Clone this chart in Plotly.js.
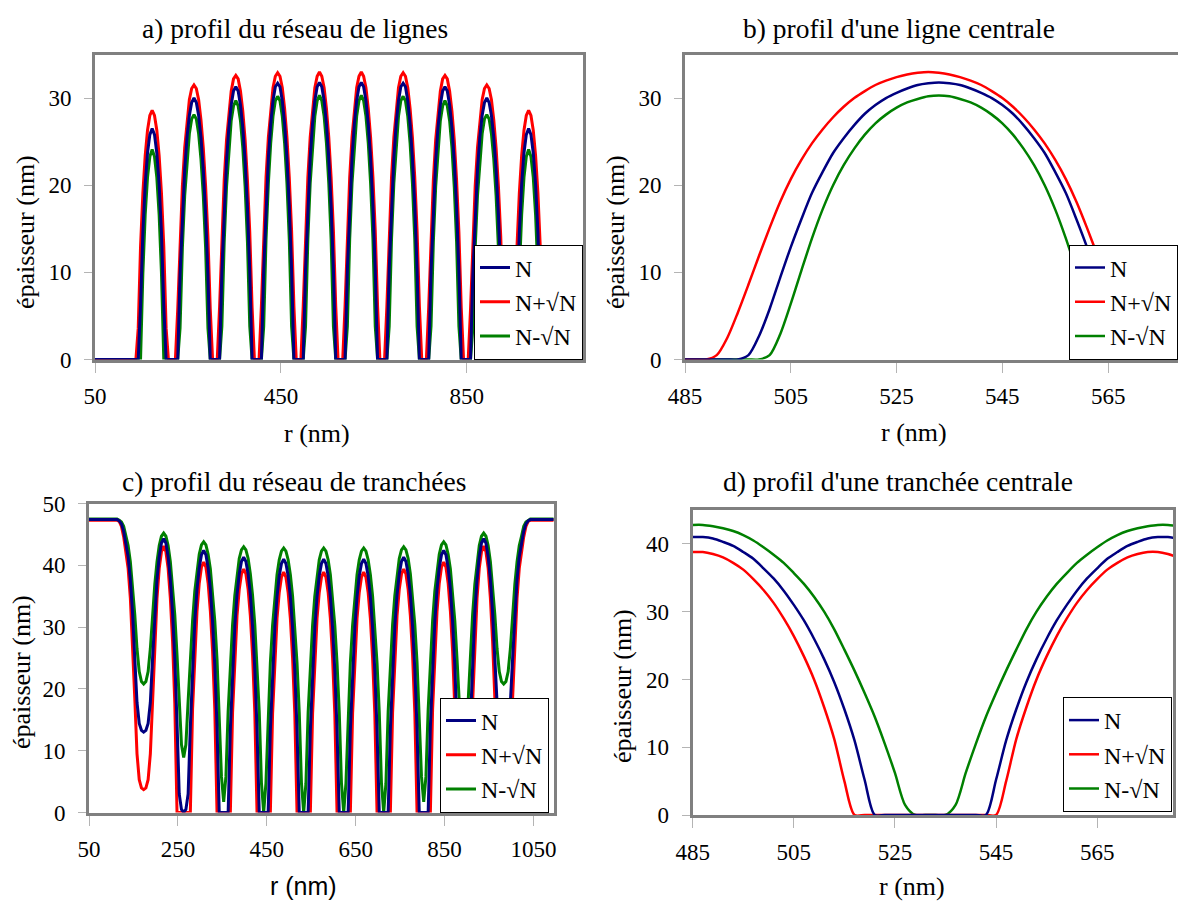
<!DOCTYPE html>
<html><head><meta charset="utf-8">
<script src="https://cdn.plot.ly/plotly-3.0.1.min.js"></script>
<style>html,body{margin:0;padding:0;overflow:hidden;background:#fff;}#chart{width:1190px;height:903px;}</style>
</head><body><div id="chart"></div>
<script>
// ---------- data ----------
const seriesNames = ['N', 'N+\u221AN', 'N-\u221AN'];
// panels a & c sampled from r = 48 nm every 5 nm ; panels b & d from r = 485 nm every 2 nm
const rStartArray = 48, rStepArray = 5;
const rStartZoom = 485, rStepZoom = 2;

// a) profil du réseau de lignes
const lignes_N = [
0,0,0,0,0,0,0,0,0,0,0,0,0,0,0,0,
0,0,0,0,6.2,14.6,20.1,23.7,25.8,26.5,25.8,23.7,20.1,14.6,6.2,0,0,0,
0,0,0,9.7,16.7,21.8,25.5,28.0,29.5,30.0,29.5,28.0,25.5,21.8,16.7,9.7,0,0,
0,0,0,10.1,17.5,22.8,26.6,29.2,30.8,31.3,30.8,29.2,26.6,22.8,17.5,10.1,0,0,
0,0,0,10.3,17.7,23.1,27.0,29.7,31.3,31.7,31.3,29.7,27.0,23.1,17.7,10.3,0,0,
0,0,0,10.3,17.7,23.1,27.0,29.7,31.3,31.8,31.3,29.7,27.0,23.1,17.7,10.3,0,0,
0,0,0,10.3,17.7,23.1,27.0,29.7,31.3,31.8,31.3,29.7,27.0,23.1,17.7,10.3,0,0,
0,0,0,10.3,17.7,23.1,27.0,29.7,31.3,31.7,31.3,29.7,27.0,23.1,17.7,10.3,0,0,
0,0,0,10.1,17.5,22.8,26.6,29.2,30.8,31.3,30.8,29.2,26.6,22.8,17.5,10.1,0,0,
0,0,0,9.7,16.7,21.8,25.5,28.0,29.5,30.0,29.5,28.0,25.5,21.8,16.7,9.7,0,0,
0,0,0,0,6.2,14.6,20.1,23.7,25.8,26.5,25.8,23.7,20.1,14.6,6.2,0,0,0,
0,0,0,0,0,0,0,0,0,0,0,0,0,0,0,0];
const lignes_Nplus = [
0,0,0,0,0,0,0,0,0,0,0,0,0,0,0,0,
0,0,0,3.6,13.0,19.1,23.4,26.3,28.0,28.6,28.0,26.3,23.4,19.1,13.0,3.6,0,0,
0,0,5.8,14.1,19.9,24.3,27.5,29.8,31.1,31.5,31.1,29.8,27.5,24.3,19.9,14.1,5.8,0,
0,0,6.0,14.6,20.6,25.2,28.5,30.8,32.2,32.6,32.2,30.8,28.5,25.2,20.6,14.6,6.0,0,
0,0,6.1,14.8,20.9,25.5,28.8,31.2,32.5,32.9,32.5,31.2,28.8,25.5,20.9,14.8,6.1,0,
0,0,6.1,14.8,20.9,25.5,28.8,31.2,32.5,33.0,32.5,31.2,28.8,25.5,20.9,14.8,6.1,0,
0,0,6.1,14.8,20.9,25.5,28.8,31.2,32.5,33.0,32.5,31.2,28.8,25.5,20.9,14.8,6.1,0,
0,0,6.1,14.8,20.9,25.5,28.8,31.2,32.5,32.9,32.5,31.2,28.8,25.5,20.9,14.8,6.1,0,
0,0,6.0,14.6,20.6,25.2,28.5,30.8,32.2,32.6,32.2,30.8,28.5,25.2,20.6,14.6,6.0,0,
0,0,5.8,14.1,19.9,24.3,27.5,29.8,31.1,31.5,31.1,29.8,27.5,24.3,19.9,14.1,5.8,0,
0,0,0,3.6,13.0,19.1,23.4,26.3,28.0,28.6,28.0,26.3,23.4,19.1,13.0,3.6,0,0,
0,0,0,0,0,0,0,0,0,0,0,0,0,0,0,0];
const lignes_Nmoins = [
0,0,0,0,0,0,0,0,0,0,0,0,0,0,0,0,
0,0,0,0,0,9.9,16.6,20.9,23.3,24.1,23.3,20.9,16.6,9.9,0,0,0,0,
0,0,0,3.6,12.8,18.8,23.0,25.9,27.6,28.1,27.6,25.9,23.0,18.8,12.8,3.6,0,0,
0,0,0,3.8,13.5,19.8,24.3,27.4,29.1,29.7,29.1,27.4,24.3,19.8,13.5,3.8,0,0,
0,0,0,3.8,13.8,20.2,24.8,27.9,29.7,30.2,29.7,27.9,24.8,20.2,13.8,3.8,0,0,
0,0,0,3.8,13.8,20.2,24.8,27.9,29.7,30.3,29.7,27.9,24.8,20.2,13.8,3.8,0,0,
0,0,0,3.8,13.8,20.2,24.8,27.9,29.7,30.3,29.7,27.9,24.8,20.2,13.8,3.8,0,0,
0,0,0,3.8,13.8,20.2,24.8,27.9,29.7,30.2,29.7,27.9,24.8,20.2,13.8,3.8,0,0,
0,0,0,3.8,13.5,19.8,24.3,27.4,29.1,29.7,29.1,27.4,24.3,19.8,13.5,3.8,0,0,
0,0,0,3.6,12.8,18.8,23.0,25.9,27.6,28.1,27.6,25.9,23.0,18.8,12.8,3.6,0,0,
0,0,0,0,0,9.9,16.6,20.9,23.3,24.1,23.3,20.9,16.6,9.9,0,0,0,0,
0,0,0,0,0,0,0,0,0,0,0,0,0,0,0,0];

// b) profil d'une ligne centrale
const ligneC_N = [0,0,0,0,0,0,0.5,2.7,5.8,9.4,12.9,16.1,19.1,21.5,23.7,25.4,26.9,28.2,29.2,30.0,30.6,31.1,31.5,31.7,31.8,31.7,31.5,31.1,30.6,30.0,29.2,28.2,26.9,25.4,23.7,21.5,19.1,16.1,12.9,9.4,5.8,2.7,0.5,0,0,0,0,0,0];
const ligneC_Nplus = [0,0,0,0.5,2.5,5.4,8.6,11.9,15.1,18.1,20.7,22.9,24.8,26.4,27.8,29.0,30.0,30.8,31.5,32.0,32.4,32.7,32.9,33.0,32.9,32.7,32.4,32.0,31.5,30.8,30.0,29.0,27.8,26.4,24.8,22.9,20.7,18.1,15.1,11.9,8.6,5.4,2.5,0.5,0,0,0,0,0];
const ligneC_Nmoins = [0,0,0,0,0,0,0,0,0.5,2.9,6.4,10.2,13.9,17.2,20.0,22.3,24.2,25.8,27.1,28.1,28.9,29.5,29.9,30.2,30.3,30.2,29.9,29.5,28.9,28.1,27.1,25.8,24.2,22.3,20.0,17.2,13.9,10.2,6.4,2.9,0.5,0,0,0,0,0,0,0,0];

// c) profil du réseau de tranchées
const tranchees_N = [
47.4,47.4,47.4,47.4,47.4,47.4,47.4,47.4,47.4,47.4,47.4,47.4,47.4,47.4,
47.2,46.7,45.5,43.6,41.4,37.7,32.3,24.9,17.8,14.4,13.3,13.0,13.3,14.4,17.8,24.9,32.3,37.7,41.4,43.6,
44.3,
43.6,41.4,37.7,32.3,24.9,14.5,3.0,0.5,0,0.5,3.0,13.9,23.8,30.9,36.1,39.6,41.7,
42.4,
41.7,39.6,36.1,30.9,23.8,13.9,0,0,0,0,0,13.5,23.2,30.1,35.2,38.6,40.6,
41.3,
40.6,38.6,35.2,30.1,23.2,13.5,0,0,0,0,0,13.4,23.0,29.9,34.9,38.3,40.3,
41.0,
40.3,38.3,34.9,29.9,23.0,13.4,0,0,0,0,0,13.4,23.0,29.9,34.9,38.3,40.3,
41.0,
40.3,38.3,34.9,29.9,23.0,13.4,0,0,0,0,0,13.4,23.0,29.9,34.9,38.3,40.3,
41.0,
40.3,38.3,34.9,29.9,23.0,13.4,0,0,0,0,0,13.5,23.2,30.1,35.2,38.6,40.6,
41.3,
40.6,38.6,35.2,30.1,23.2,13.5,0,0,0,0,0,13.9,23.8,30.9,36.1,39.6,41.7,
42.4,
41.7,39.6,36.1,30.9,23.8,13.9,3.0,0.5,0,0.5,3.0,14.5,24.9,32.3,37.7,41.4,43.6,
44.3,
43.6,41.4,37.7,32.3,24.9,17.8,14.4,13.3,13.0,13.3,14.4,17.8,24.9,32.3,37.7,41.4,43.6,45.5,46.7,47.2,
47.4,47.4,47.4,47.4,47.4,47.4,47.4,47.4,47.4,47.4,47.4,47.4,47.4];
const tranchees_Nplus = [
47.3,47.3,47.3,47.3,47.3,47.3,47.3,47.3,47.3,47.3,47.3,47.3,47.3,47.3,
47.1,46.3,44.6,42.2,39.5,34.7,27.7,18.5,9.5,5.3,4.0,3.7,4.0,5.3,9.5,18.5,27.7,34.7,39.5,42.2,
43.1,
42.2,39.5,34.7,27.7,17.7,0,0,0,0,0,0,0,16.7,26.1,32.6,37.1,39.7,
40.5,
39.7,37.1,32.6,26.1,16.7,0,0,0,0,0,0,0,16.2,25.4,31.8,36.1,38.6,
39.4,
38.6,36.1,31.8,25.4,16.2,0,0,0,0,0,0,0,16.0,25.0,31.4,35.6,38.1,
38.9,
38.1,35.6,31.4,25.0,16.0,0,0,0,0,0,0,0,16.0,25.0,31.4,35.6,38.1,
38.9,
38.1,35.6,31.4,25.0,16.0,0,0,0,0,0,0,0,16.0,25.0,31.4,35.6,38.1,
38.9,
38.1,35.6,31.4,25.0,16.0,0,0,0,0,0,0,0,16.2,25.4,31.8,36.1,38.6,
39.4,
38.6,36.1,31.8,25.4,16.2,0,0,0,0,0,0,0,16.7,26.1,32.6,37.1,39.7,
40.5,
39.7,37.1,32.6,26.1,16.7,0,0,0,0,0,0,0,17.7,27.7,34.7,39.5,42.2,
43.1,
42.2,39.5,34.7,27.7,18.5,9.5,5.3,4.0,3.7,4.0,5.3,9.5,18.5,27.7,34.7,39.5,42.2,44.6,46.3,47.1,
47.3,47.3,47.3,47.3,47.3,47.3,47.3,47.3,47.3,47.3,47.3,47.3,47.3];
const tranchees_Nmoins = [
47.5,47.5,47.5,47.5,47.5,47.5,47.5,47.5,47.5,47.5,47.5,47.5,47.5,47.5,
47.3,47.0,46.3,44.7,43.2,40.6,36.9,32.0,26.5,22.8,21.2,20.8,21.2,22.8,26.5,32.0,36.9,40.6,43.2,44.7,
45.2,
44.7,43.2,40.6,36.9,32.0,25.5,18.0,11.0,8.9,11.0,18.0,24.8,31.0,35.8,39.4,41.8,43.3,
43.8,
43.3,41.8,39.4,35.8,31.0,24.8,16.6,5.8,1.7,5.8,16.3,24.3,30.4,35.1,38.6,41.1,42.5,
43.0,
42.5,41.1,38.6,35.1,30.4,24.3,16.3,4.7,0,4.7,16.2,24.2,30.3,35.0,38.5,40.9,42.3,
42.8,
42.3,40.9,38.5,35.0,30.3,24.2,16.2,4.7,0,4.7,16.2,24.2,30.3,35.0,38.5,40.9,42.3,
42.8,
42.3,40.9,38.5,35.0,30.3,24.2,16.2,4.7,0,4.7,16.2,24.2,30.3,35.0,38.5,40.9,42.3,
42.8,
42.3,40.9,38.5,35.0,30.3,24.2,16.2,4.7,0,4.7,16.3,24.3,30.4,35.1,38.6,41.1,42.5,
43.0,
42.5,41.1,38.6,35.1,30.4,24.3,16.3,5.8,1.7,5.8,16.6,24.8,31.0,35.8,39.4,41.8,43.3,
43.8,
43.3,41.8,39.4,35.8,31.0,24.8,18.0,11.0,8.9,11.0,18.0,25.5,32.0,36.9,40.6,43.2,44.7,
45.2,
44.7,43.2,40.6,36.9,32.0,26.5,22.8,21.2,20.8,21.2,22.8,26.5,32.0,36.9,40.6,43.2,44.7,46.3,47.0,47.3,
47.5,47.5,47.5,47.5,47.5,47.5,47.5,47.5,47.5,47.5,47.5,47.5,47.5];

// d) profil d'une tranchée centrale
const trancheeC_N = [41.0,41.0,40.8,40.3,39.7,38.8,37.8,36.4,34.9,33.1,31.0,28.7,26.0,23.0,19.6,15.6,11.0,5.2,0,0,0,0,0,0,0,0,0,0,0,0,5.2,11.0,15.6,19.6,23.0,26.0,28.7,31.0,33.1,34.9,36.4,37.8,38.8,39.7,40.3,40.8,41.0,41.0,40.8];
const trancheeC_Nplus = [38.8,38.8,38.5,38.0,37.2,36.2,34.8,33.2,31.3,29.0,26.4,23.4,20.0,15.9,11.2,5.0,0,0,0,0,0,0,0,0,0,0,0,0,0,0,0,5.0,11.2,15.9,20.0,23.4,26.4,29.0,31.3,33.2,34.8,36.2,37.2,38.0,38.5,38.8,38.8,38.5,38.0];
const trancheeC_Nmoins = [42.8,42.8,42.6,42.3,41.9,41.3,40.5,39.5,38.4,37.2,35.7,34.1,32.2,30.0,27.4,24.4,21.3,18.0,14.5,10.5,6.2,1.5,0,0,0,0,1.5,6.2,10.5,14.5,18.0,21.3,24.4,27.4,30.0,32.2,34.1,35.7,37.2,38.4,39.5,40.5,41.3,41.9,42.3,42.6,42.8,42.8,42.6];

// tick labels
const ticksA_x = [50, 450, 850], ticksA_y = [0, 10, 20, 30];
const ticksB_x = [485, 505, 525, 545, 565], ticksB_y = [0, 10, 20, 30];
const ticksC_x = [50, 250, 450, 650, 850, 1050], ticksC_y = [0, 10, 20, 30, 40, 50];
const ticksD_x = [485, 505, 525, 545, 565], ticksD_y = [0, 10, 20, 30, 40];

const panelTitles = ["a) profil du réseau de lignes", "b) profil d'une ligne centrale",
                     "c) profil du réseau de tranchées", "d) profil d'une tranchée centrale"];
const xTitle = 'r (nm)', yTitle = 'épaisseur (nm)';

// ---------- style ----------
const colors = {N: '#000080', P: '#ff0000', M: '#008000'};
const SERIF = 'Liberation Serif';
const SANS = 'Liberation Sans';
const W = 1190, H = 903;
const px = v => v / W, py = v => 1 - v / H;
const serifFont = size => ({family: SERIF, size: size, color: '#000'});

function trio(N, P, M, x0, dx, xa, ya, lg, w, shape) {
  const mk = (y, name, col, rank) => ({
    type: 'scatter', mode: 'lines', x0: x0, dx: dx, y: y, name: name,
    xaxis: xa, yaxis: ya, legend: lg, legendrank: rank,
    line: {color: col, width: w, shape: shape, smoothing: 0.8}, hoverinfo: 'skip'
  });
  return [mk(M, seriesNames[2], colors.M, 3), mk(P, seriesNames[1], colors.P, 2), mk(N, seriesNames[0], colors.N, 1)];
}

const traces = [].concat(
  trio(lignes_N, lignes_Nplus, lignes_Nmoins, rStartArray, rStepArray, 'x', 'y', 'legend', 3, 'linear'),
  trio(ligneC_N, ligneC_Nplus, ligneC_Nmoins, rStartZoom, rStepZoom, 'x2', 'y2', 'legend2', 2.5, 'spline'),
  trio(tranchees_N, tranchees_Nplus, tranchees_Nmoins, rStartArray, rStepArray, 'x3', 'y3', 'legend3', 3, 'linear'),
  trio(trancheeC_N, trancheeC_Nplus, trancheeC_Nmoins, rStartZoom, rStepZoom, 'x4', 'y4', 'legend4', 2.5, 'spline')
);

const axBase = {
  showline: true, mirror: true, linecolor: '#808080', linewidth: 3,
  ticks: 'outside', tickcolor: '#b4b4b4', tickwidth: 1,
  showgrid: false, zeroline: false, fixedrange: true,
  tickfont: serifFont(23), tickmode: 'array'
};
const xAx = (dom, rng, tv, anchor) => Object.assign({}, axBase, {domain: dom, range: rng, tickvals: tv, ticktext: tv.map(String), anchor: anchor, ticklen: 10, ticklabelstandoff: 4});
const yAx = (dom, rng, tv, anchor) => Object.assign({}, axBase, {domain: dom, range: rng, tickvals: tv, ticktext: tv.map(String), anchor: anchor, ticklen: 8, ticklabelstandoff: 8});

const legBase = {bgcolor: '#fff', bordercolor: '#000', borderwidth: 1, font: serifFont(24), traceorder: 'normal'};
const leg = (x, y, xa) => Object.assign({}, legBase, {x: x, y: y, xanchor: xa, yanchor: 'bottom'});

const ann = (text, x, y, opts) => Object.assign({text: text, x: px(x), y: py(y), xref: 'paper', yref: 'paper', showarrow: false, xanchor: 'center', yanchor: 'middle', font: serifFont(26)}, opts || {});
const titleFont = serifFont(27.5);

const layout = {
  width: W, height: H, autosize: false,
  margin: {l: 0, r: 0, t: 0, b: 0, pad: 0},
  paper_bgcolor: '#fff', plot_bgcolor: '#fff',
  font: serifFont(20),
  showlegend: true,
  xaxis:  xAx([px(95), px(583)], [50, 1100], ticksA_x, 'y'),
  yaxis:  yAx([py(359.5), py(54.5)], [0, 35], ticksA_y, 'x'),
  xaxis2: xAx([px(685), px(1187.5)], [485, 580], ticksB_x, 'y2'),
  yaxis2: yAx([py(359.5), py(54.5)], [0, 35], ticksB_y, 'x2'),
  xaxis3: xAx([px(89), px(553.5)], [50, 1095], ticksC_x, 'y3'),
  yaxis3: yAx([py(812.5), py(503.5)], [0, 50], ticksC_y, 'x3'),
  xaxis4: xAx([px(692.7), px(1173)], [485, 580], ticksD_x, 'y4'),
  yaxis4: yAx([py(815), py(510)], [0, 45], ticksD_y, 'x4'),
  legend:  leg(px(583), py(359.5), 'right'),
  legend2: leg(px(1069), py(359.5), 'left'),
  legend3: leg(px(549), py(812.5), 'right'),
  legend4: leg(px(1172), py(812), 'right'),
  annotations: [
    ann(panelTitles[0], 295, 28, {font: titleFont}), ann(panelTitles[1], 899, 28, {font: titleFont}),
    ann(panelTitles[2], 294, 481, {font: titleFont}), ann(panelTitles[3], 898, 481, {font: titleFont}),
    ann(xTitle, 317, 434), ann(xTitle, 914, 432),
    ann(xTitle, 303, 886, {font: {family: SANS, size: 25, color: '#000'}}), ann(xTitle, 912, 886),
    ann(yTitle, 26, 232, {textangle: -90}), ann(yTitle, 616, 232, {textangle: -90}),
    ann(yTitle, 21, 672, {textangle: -90}), ann(yTitle, 622, 686, {textangle: -90})
  ]
};

Plotly.newPlot('chart', traces, layout, {staticPlot: true, displayModeBar: false});
</script></body></html>
